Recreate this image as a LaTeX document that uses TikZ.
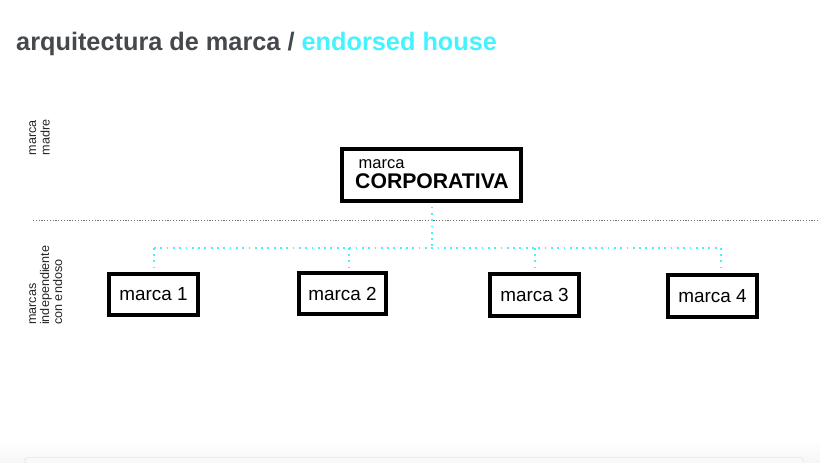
\documentclass[tikz,border=0pt]{standalone}
\usepackage{fontspec}
\setmainfont{Liberation Sans}
\definecolor{titlegray}{HTML}{45484D}
\definecolor{cyanlink}{HTML}{45F2FF}
\definecolor{sepgray}{HTML}{707070}
\begin{document}
\begin{tikzpicture}[x=1pt,y=-1pt,
  brandbox/.style={draw=black, line width=3.6pt, fill=white, inner sep=0pt},
  boxlabel/.style={font=\fontsize{18.9}{22}\selectfont},
  sidelabel/.style={rotate=90, anchor=base west, inner sep=0pt, font=\fontsize{12.6}{14}\selectfont, text=black!85},
  link/.style={cyanlink, line width=1.8pt, dash pattern=on 1.8pt off 4.5pt},
  sep/.style={sepgray, line width=1.2pt, dash pattern=on 1.2pt off 1.6pt}]
\useasboundingbox (0,0) rectangle (820,463);
\fill[white] (0,0) rectangle (820,463);
% bottom frame (screenshot edge)
\shade[top color=white, bottom color=gray!7] (0,440) rectangle (820,463);
\draw[gray!30, fill=gray!5, rounded corners=3pt] (25,457.5) rectangle (803,476);
% title
\node[anchor=base west, inner sep=0pt, font=\fontsize{25.3}{29}\selectfont\bfseries, text=titlegray] (title) at (16,50.5) {arquitectura de marca / \textcolor{cyanlink}{endorsed house}};
% side labels
\node[sidelabel] (sa1) at (36,155.5) {marca};
\node[sidelabel] (sa2) at (49.5,155.5) {madre};
\node[sidelabel] (sb1) at (36,325) {marcas};
\node[sidelabel] (sb2) at (49,325) {independiente};
\node[sidelabel] (sb3) at (62,325) {con endoso};
% separator
\coordinate (sepL) at (33,220.3);
\coordinate (sepR) at (820,220.3);
\draw[sep] (sepL) -- (sepR);
% corporate box
\node[brandbox, minimum width=179pt, minimum height=52pt] (corp) at (431.5,174.8) {};
\node[anchor=base west, inner sep=0pt, font=\fontsize{16.5}{19}\selectfont] (corpa) at (358.5,168.3) {marca};
\node[anchor=base west, inner sep=0pt, font=\fontsize{21.2}{25}\selectfont\bfseries] (corpb) at (355,188) {CORPORATIVA};
% brand boxes
\node[brandbox, boxlabel, minimum width=89.5pt, minimum height=41.5pt] (m1) at (153.5,294.5) {marca 1};
\node[brandbox, boxlabel, minimum width=87.5pt, minimum height=41.5pt] (m2) at (342.5,293.5) {marca 2};
\node[brandbox, boxlabel, minimum width=89.5pt, minimum height=42.5pt] (m3) at (534.5,295) {marca 3};
\node[brandbox, boxlabel, minimum width=89.5pt, minimum height=42.5pt] (m4) at (712.5,296) {marca 4};
% links
\coordinate (hub) at (432,247.7);
\coordinate (h1) at (154,247.7);
\coordinate (h2) at (349,247.7);
\coordinate (h3) at (535,247.7);
\coordinate (h4) at (721,247.7);
\coordinate (d1) at (154,268);
\coordinate (d2) at (349,267);
\coordinate (d3) at (535,268);
\coordinate (d4) at (721,269);
\draw[link] (corp.south) ++(0.5,4) coordinate (cs) -- (hub);
\draw[link] (h1) -- (h4);
\draw[link] (h1) -- (d1);
\draw[link] (h2) -- (d2);
\draw[link] (h3) -- (d3);
\draw[link] (h4) -- (d4);
\end{tikzpicture}
\end{document}
